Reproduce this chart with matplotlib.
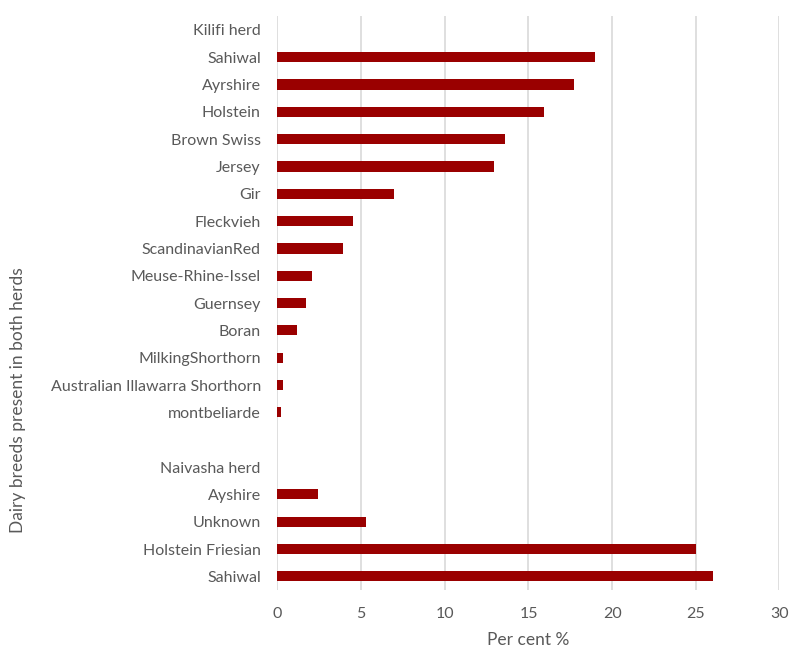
import matplotlib.pyplot as plt

breeds = ['Kilifi herd', 'Sahiwal', 'Ayrshire', 'Holstein', 'Brown Swiss', 'Jersey',
          'Gir', 'Fleckvieh', 'ScandinavianRed', 'Meuse-Rhine-Issel', 'Guernsey',
          'Boran', 'MilkingShorthorn', 'Australian Illawarra Shorthorn', 'montbeliarde',
          '', 'Naivasha herd', 'Ayshire', 'Unknown', 'Holstein Friesian', 'Sahiwal']
percent = [0, 19.0, 17.75, 15.9, 13.6, 12.95, 6.97, 4.53, 3.89, 2.05, 1.69,
           1.15, 0.33, 0.33, 0.21, 0, 0, 2.41, 5.31, 25.0, 26.0]
xticks = [0, 5, 10, 15, 20, 25, 30]

plt.rcParams['font.family'] = ['Lato', 'DejaVu Sans']
grey = '#595959'

fig = plt.figure(figsize=(7.89, 6.48), dpi=100)
ax = fig.add_axes([0.3517, 0.0895, 0.6362, 0.8855])

pos = list(range(len(breeds)))
ax.barh(pos, percent, height=0.37, color='#9A0000', linewidth=0, zorder=3)
ax.set_ylim(len(breeds) - 0.5, -0.5)
ax.set_xlim(0, 30)
ax.set_yticks(pos)
ax.set_yticklabels(breeds, fontsize=11.5, color=grey)
ax.set_xticks(xticks)
ax.set_xticklabels([str(t) for t in xticks], fontsize=11.5, color=grey)
ax.tick_params(axis='both', length=0)
ax.tick_params(axis='y', pad=12)
ax.tick_params(axis='x', pad=12)
ax.grid(axis='x', color='#D9D9D9', linewidth=1.2, zorder=0)
for s in ax.spines.values():
    s.set_visible(False)

ax.set_xlabel('Per cent %', fontsize=12.5, color=grey, labelpad=8)
fig.text(18 / 789, 1 - 400 / 648, 'Dairy breeds present in both herds', rotation=90,
         fontsize=12.5, color=grey, ha='center', va='center')

plt.savefig('out.png', dpi=100)
